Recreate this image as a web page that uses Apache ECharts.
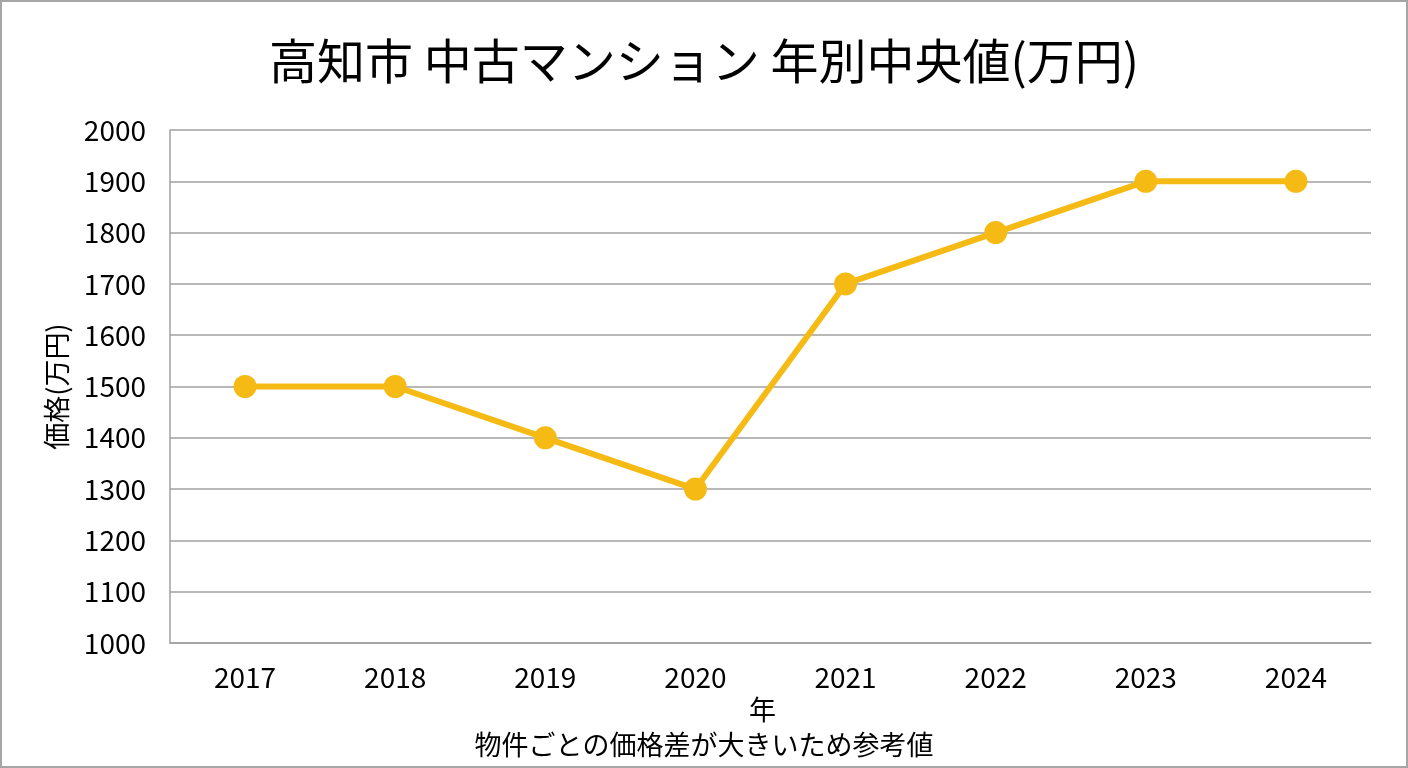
<!DOCTYPE html>
<html>
<head>
<meta charset="utf-8">
<title>高知市 中古マンション 年別中央値</title>
<script src="https://cdn.jsdelivr.net/npm/echarts@6/dist/echarts.min.js"></script>
<style>
  html, body { margin: 0; padding: 0; background: #fff; }
  #main { width: 1408px; height: 768px; box-sizing: border-box; border: 2px solid #a6a6a6; }
</style>
</head>
<body>
<div id="main"></div>
<script>
  // 年別の中央値（万円）
  var years = ['2017', '2018', '2019', '2020', '2021', '2022', '2023', '2024'];
  var prices = [1500, 1500, 1400, 1300, 1700, 1800, 1900, 1900];

  var font = '"Noto Sans CJK JP", "Noto Sans", sans-serif';
  var chart = echarts.init(document.getElementById('main'));

  chart.setOption({
    textStyle: { fontFamily: font },
    title: {
      text: '高知市 中古マンション 年別中央値(万円)',
      left: 'center',
      top: 30,
      textStyle: { fontSize: 48, fontWeight: 'normal', color: '#000', fontFamily: font }
    },
    graphic: [{
      type: 'text',
      left: 'center',
      top: 729,
      style: {
        text: '物件ごとの価格差が大きいため参考値',
        fontSize: 27,
        fill: '#000',
        fontFamily: font
      }
    }],
    grid: { left: 168, right: 35, top: 128, bottom: 123 },
    xAxis: {
      type: 'category',
      data: years,
      name: '年',
      nameLocation: 'middle',
      nameGap: 50,
      nameTextStyle: { fontSize: 27, color: '#000', padding: [0, 16, 0, 0] },
      axisLine: { lineStyle: { color: '#a0a0a0', width: 1.5 } },
      axisTick: { show: false },
      axisLabel: { fontSize: 28, color: '#000', margin: 20 }
    },
    yAxis: {
      type: 'value',
      min: 1000,
      max: 2000,
      interval: 100,
      name: '価格(万円)',
      nameLocation: 'middle',
      nameGap: 100,
      nameTextStyle: { fontSize: 27, color: '#000' },
      axisLine: { show: true, lineStyle: { color: '#a0a0a0', width: 1.5 } },
      axisTick: { show: false },
      axisLabel: {
        fontSize: 28, color: '#000', margin: 24,
        formatter: function (v) { return String(v); }
      },
      splitLine: { lineStyle: { color: '#a0a0a0', width: 1.5 } }
    },
    series: [{
      type: 'line',
      data: prices,
      symbol: 'circle',
      symbolSize: 23,
      lineStyle: { color: '#f5ba14', width: 6 },
      itemStyle: { color: '#f5ba14' },
      animation: false
    }]
  });
</script>
</body>
</html>
